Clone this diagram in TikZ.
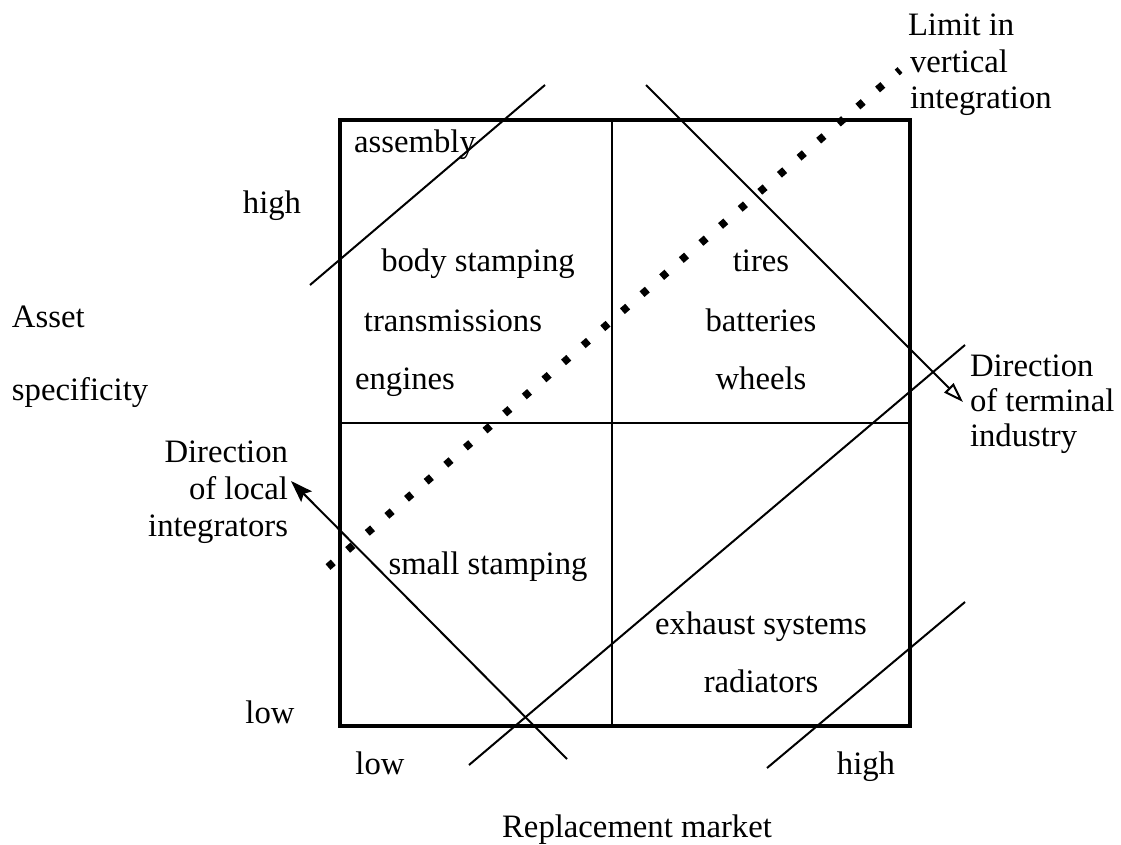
\documentclass[tikz,border=0pt]{standalone}
\usepackage{fontspec}
\setmainfont{Liberation Serif}
\usetikzlibrary{arrows.meta}
\begin{document}
\begin{tikzpicture}[x=1pt,y=-1pt,
  lbl/.style={inner sep=0pt,outer sep=0pt,font=\fontsize{32.7}{36}\selectfont},
  frame/.style={line width=4.5pt},
  divider/.style={line width=2.5pt},
  diag/.style={line width=2pt},
  limitline/.style={line width=7.5pt,dash pattern=on 7pt off 19pt},
  fillhead/.style={-{Stealth[length=22pt,width=15pt,inset=4pt]}},
  openhead/.style={-{Triangle[open,length=20pt,width=13pt,line width=2pt]}}]
\useasboundingbox (0,0) rectangle (1121,845);
% frame and dividers
\coordinate (tl) at (340,120);
\coordinate (br) at (910,726);
\coordinate (mt) at (612,120);
\coordinate (mb) at (612,726);
\coordinate (ml) at (340,423);
\coordinate (mr) at (910,423);
\draw[divider] (mt) -- (mb);
\draw[divider] (ml) -- (mr);
\draw[frame] (tl) rectangle (br);
% diagonal lines
\coordinate (d1a) at (310,285);
\coordinate (d1b) at (545,85);
\coordinate (d2a) at (469,765);
\coordinate (d2b) at (965,345);
\coordinate (d3a) at (767,768);
\coordinate (d3b) at (965,602);
\draw[diag] (d1a) -- (d1b);
\draw[diag] (d2a) -- (d2b);
\draw[diag] (d3a) -- (d3b);
% arrows
\coordinate (ta) at (646,85);
\coordinate (tb) at (963,402);
\draw[diag,openhead] (ta) -- (tb);
\coordinate (la) at (567,759);
\coordinate (lb) at (291,481);
\draw[diag,fillhead] (la) -- (lb);
% limit line
\coordinate (va) at (328,567);
\coordinate (vb) at (900,70);
\draw[limitline] (va) -- (vb);
% texts
\node[lbl,anchor=base west] (lim1) at (908,36) {Limit in};
\node[lbl,anchor=base west] (lim2) at (910,73) {vertical};
\node[lbl,anchor=base west] (lim3) at (910,109) {integration};
\node[lbl,anchor=base west] (ter1) at (970,376) {Direction};
\node[lbl,anchor=base west] (ter2) at (970,411) {of terminal};
\node[lbl,anchor=base west] (ter3) at (970,446) {industry};
\node[lbl,anchor=base east] (loc1) at (288,462) {Direction};
\node[lbl,anchor=base east] (loc2) at (288,499) {of local};
\node[lbl,anchor=base east] (loc3) at (288,536) {integrators};
\node[lbl,anchor=base] (yhigh) at (272,213) {high};
\node[lbl,anchor=base] (ylow) at (270,723) {low};
\node[lbl,anchor=base west] (ax1) at (12,327) {Asset};
\node[lbl,anchor=base west] (ax2) at (12,400) {specificity};
\node[lbl,anchor=base] (asm) at (415,153) {assembly};
\node[lbl,anchor=base] (body) at (478,271) {body stamping};
\node[lbl,anchor=base] (trans) at (453,331) {transmissions};
\node[lbl,anchor=base] (eng) at (405,389) {engines};
\node[lbl,anchor=base] (tires) at (761,271) {tires};
\node[lbl,anchor=base] (batt) at (761,331) {batteries};
\node[lbl,anchor=base] (whl) at (761,389) {wheels};
\node[lbl,anchor=base] (small) at (488,574) {small stamping};
\node[lbl,anchor=base] (exh) at (761,634) {exhaust systems};
\node[lbl,anchor=base] (rad) at (761,692) {radiators};
\node[lbl,anchor=base] (xlow) at (380,774) {low};
\node[lbl,anchor=base] (xhigh) at (866,774) {high};
\node[lbl,anchor=base] (xax) at (637,837) {Replacement market};
\end{tikzpicture}
\end{document}
